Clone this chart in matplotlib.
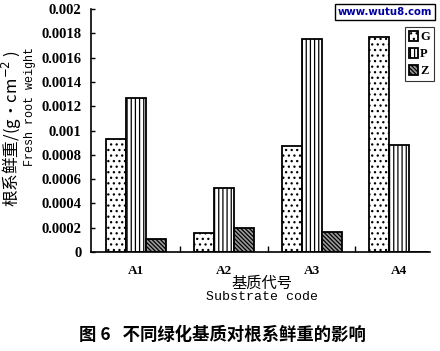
import matplotlib
matplotlib.use("Agg")
import matplotlib.pyplot as plt
import numpy as np

categories = ["A1", "A2", "A3", "A4"]
series_names = ["G", "P", "Z"]
G = [0.00093, 0.000156, 0.00087, 0.00177]
P = [0.00127, 0.000527, 0.00175, 0.00088]
Z = [0.000107, 0.0002, 0.000165, 0.0]
ytick_vals = [0, 0.0002, 0.0004, 0.0006, 0.0008, 0.001, 0.0012, 0.0014, 0.0016, 0.0018, 0.002]
ytick_labels = ["0", "0.0002", "0.0004", "0.0006", "0.0008", "0.001",
                "0.0012", "0.0014", "0.0016", "0.0018", "0.002"]

plt.rcParams['hatch.linewidth'] = 0.9

fig = plt.figure(figsize=(4.40, 3.51), dpi=100)
ax = fig.add_axes([91/440, 1-252/351, (430-91)/440, (252-9)/351])

x = np.arange(len(categories))
w = 0.228
hatches = ["...", "||||", "\\\\\\\\\\\\\\\\"]
faces = ["white", "white", "#9a9a9a"]
bars = []
for i, (vals, h, fc) in enumerate(zip([G, P, Z], hatches, faces)):
    b = ax.bar(x + (i - 1) * w, vals, width=w, facecolor=fc, edgecolor="black",
               hatch=h, linewidth=1.3, label=series_names[i])
    bars.append(b)

ax.set_xlim(-0.513, 3.35)
ax.set_ylim(0, 0.002)
ax.set_yticks(ytick_vals)
ax.set_yticklabels(ytick_labels, fontfamily="Liberation Serif", fontweight="bold", fontsize=10.5)
ax.set_xticks(x)
ax.set_xticklabels(categories, fontfamily="Liberation Serif", fontweight="bold", fontsize=9.5)
ax.set_xticks([0.5, 1.5, 2.5], minor=True)
ax.tick_params(axis="x", which="major", length=0, pad=9)
ax.tick_params(axis="x", which="minor", direction="in", length=4, width=1)
ax.tick_params(axis="y", direction="in", length=3, width=1, pad=7)
for s in ["top", "right"]:
    ax.spines[s].set_visible(False)
for s in ["left", "bottom"]:
    ax.spines[s].set_linewidth(1.2)

# y label (two lines)
fig.text(12/440, 1-50/351, "根系鲜重/(g·cm$^{-2}$ )", rotation=90, va="top", ha="center",
         fontfamily=["Noto Sans CJK SC", "DejaVu Sans"], fontsize=12)
fig.text(30/440, 1-47/351, "Fresh root weight", rotation=90, va="top", ha="center",
         fontfamily="Liberation Mono", fontsize=8.5)

# x label
fig.text(262/440, 1-283/351, "基质代号", ha="center", va="center",
         fontfamily=["Noto Sans CJK SC", "DejaVu Sans"], fontsize=11)
fig.text(262/440, 1-297/351, "Substrate code", ha="center", va="center",
         fontfamily="Liberation Mono", fontsize=9.5)

# caption
fig.text(222/440, 1-335/351, "图 6   不同绿化基质对根系鲜重的影响", ha="center", va="center",
         fontfamily=["Noto Sans CJK SC", "DejaVu Sans"], fontweight="bold", fontsize=12.5)

# watermark
fig.text(385/440, 1-12/351, "www.wutu8.com", ha="center", va="center", color="#0000a0",
         fontfamily="DejaVu Sans", fontweight="bold", fontsize=7.3,
         bbox=dict(boxstyle="square,pad=0.25", facecolor="white", edgecolor="black", linewidth=1))

leg = ax.legend(handles=bars, labels=series_names, loc="upper left",
                bbox_to_anchor=(405/440, 1-27/351), bbox_transform=fig.transFigure,
                frameon=True, fancybox=False, handlelength=0.7, handleheight=0.9,
                handletextpad=0.2, borderpad=0.3, labelspacing=0.35, borderaxespad=0,
                prop={"family": "Liberation Serif", "weight": "bold", "size": 9})
leg.get_frame().set_edgecolor("black")
leg.get_frame().set_linewidth(0.8)

fig.savefig("out.png", dpi=100)
